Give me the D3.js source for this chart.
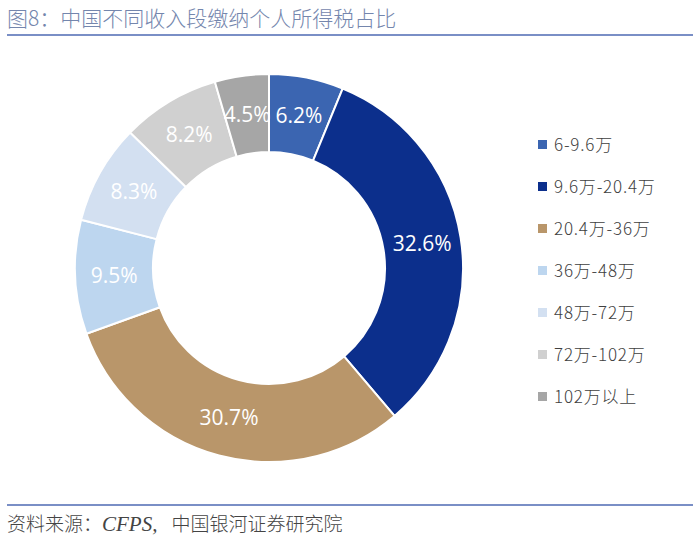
<!DOCTYPE html>
<html><head><meta charset="utf-8">
<script src="https://cdn.jsdelivr.net/npm/d3@7"></script>
<style>body{margin:0;background:#fff}svg{display:block}</style>
</head><body><svg id="c" width="700" height="542"></svg>
<script>
const categories = ["6-9.6万","9.6万-20.4万","20.4万-36万","36万-48万","48万-72万","72万-102万","102万以上"];
const values = [6.2, 32.6, 30.7, 9.5, 8.3, 8.2, 4.5];
const colors = ["#3b65b1","#0c2f8c","#b9966a","#bdd6ef","#d3e0f1","#d0d0d0","#a6a6a6"];
const title = "图8：中国不同收入段缴纳个人所得税占比";

const svg = d3.select("#c");
const cjk = "'Noto Sans CJK SC','Noto Sans',sans-serif";

svg.append("text").attr("x",7).attr("y",26).attr("font-family",cjk).attr("font-weight",300)
  .attr("font-size",21).attr("fill","#7486ad").text(title);
svg.append("line").attr("x1",7).attr("x2",693).attr("y1",35).attr("y2",35)
  .attr("stroke","#7a8fc6").attr("stroke-width",2);
svg.append("line").attr("x1",7).attr("x2",693).attr("y1",505).attr("y2",505)
  .attr("stroke","#7a8fc6").attr("stroke-width",2);
const ft = svg.append("text").attr("x",7).attr("y",531).attr("font-family",cjk).attr("font-weight",300)
  .attr("font-size",19).attr("fill","#444");
ft.append("tspan").text("资料来源：");
ft.append("tspan").attr("font-style","italic").attr("font-family","'Liberation Serif',serif").attr("font-size",21).text("CFPS,");
ft.append("tspan").attr("dx",14).text("中国银河证券研究院");

const cx = 269, cy = 268, R = 194, r = 116;
const data = categories.map((c,i)=>({c, v: values[i], col: colors[i]}));
const pie = d3.pie().value(d=>d.v).sort(null);
const arc = d3.arc().innerRadius(r).outerRadius(R);
const g = svg.append("g").attr("transform",`translate(${cx},${cy})`);
const arcs = pie(data);
g.selectAll("path").data(arcs).join("path").attr("d",arc)
  .attr("fill",d=>d.data.col).attr("stroke","#fff").attr("stroke-width",2);
g.selectAll("text").data(arcs).join("text")
  .attr("transform",d=>`translate(${arc.centroid(d)})`)
  .attr("text-anchor","middle").attr("dy","0.35em")
  .attr("font-family","'Open Sans','Noto Sans',sans-serif").attr("font-size",21)
  .attr("fill","#fff").text(d=>d.data.v.toFixed(1)+"%");

const lg = svg.append("g");
const ly = d3.scalePoint().domain(categories).range([145,397]);
categories.forEach((c,i)=>{
  lg.append("rect").attr("x",538).attr("y",ly(c)-5).attr("width",9).attr("height",9).attr("fill",colors[i]);
  lg.append("text").attr("x",554).attr("y",ly(c)).attr("dy","0.35em").attr("font-family",cjk)
    .attr("font-weight",300).attr("font-size",17).attr("letter-spacing",0.8).attr("fill","#404040").text(c);
});
</script></body></html>
